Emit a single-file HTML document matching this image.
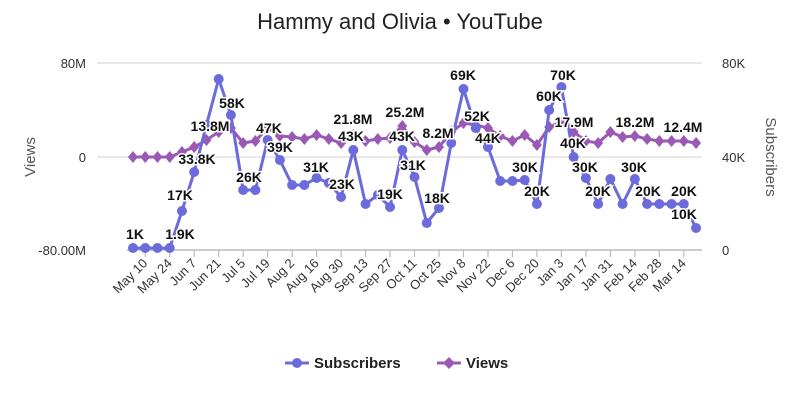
<!DOCTYPE html>
<html><head><meta charset="utf-8"><style>
body{margin:0;background:#fff;width:800px;height:400px;overflow:hidden}
text{font-family:"Liberation Sans",sans-serif}
.l{font-size:14px;font-weight:bold;fill:#111;text-anchor:middle;stroke:#fff;stroke-width:3px;paint-order:stroke}
.t{font-size:13px;fill:#333}
</style></head><body>
<svg width="800" height="400" xmlns="http://www.w3.org/2000/svg">
<text x="400" y="29" text-anchor="middle" style="font-size:22px;fill:#222">Hammy and Olivia • YouTube</text>
<line x1="97" y1="63" x2="702" y2="63" stroke="#e0e0e0" stroke-width="1.5"/>
<line x1="97" y1="157" x2="702" y2="157" stroke="#e0e0e0" stroke-width="1.5"/>
<line x1="127" y1="250" x2="702" y2="250" stroke="#bbb" stroke-width="1.5"/>
<g id="ticks" stroke="#bbb" stroke-width="1.2"></g>
<text class="t" x="86" y="68" text-anchor="end">80M</text>
<text class="t" x="86" y="162" text-anchor="end">0</text>
<text class="t" x="86" y="255" text-anchor="end">-80.00M</text>
<text class="t" x="722" y="68">80K</text>
<text class="t" x="722" y="162">40K</text>
<text class="t" x="722" y="255">0</text>
<text x="35" y="157" transform="rotate(-90 35 157)" text-anchor="middle" style="font-size:15px;fill:#555">Views</text>
<text x="766" y="157" transform="rotate(90 766 157)" text-anchor="middle" style="font-size:15px;fill:#555">Subscribers</text>
<g id="xl"></g>
<polyline id="vl" fill="none" stroke="#9b59b6" stroke-width="3"/>
<g id="vm" fill="#9b59b6"></g>
<polyline id="sl" fill="none" stroke="#6b6bdb" stroke-width="3"/>
<g id="sm" fill="#6b6bdb"></g>
<g>
<text class="l" x="135" y="239">1K</text><text class="l" x="180" y="239">1.9K</text>
<text class="l" x="180" y="200">17K</text><text class="l" x="197" y="164">33.8K</text>
<text class="l" x="210" y="131">13.8M</text><text class="l" x="232" y="108">58K</text>
<text class="l" x="249" y="182">26K</text><text class="l" x="269" y="133">47K</text>
<text class="l" x="280" y="152">39K</text><text class="l" x="316" y="172">31K</text>
<text class="l" x="342" y="189">23K</text><text class="l" x="353" y="124">21.8M</text>
<text class="l" x="351" y="141">43K</text><text class="l" x="390" y="199">19K</text>
<text class="l" x="405" y="117">25.2M</text><text class="l" x="402" y="141">43K</text>
<text class="l" x="413" y="170">31K</text><text class="l" x="438" y="138">8.2M</text>
<text class="l" x="437" y="203">18K</text><text class="l" x="463" y="80">69K</text>
<text class="l" x="477" y="121">52K</text><text class="l" x="488" y="143">44K</text>
<text class="l" x="525" y="172">30K</text><text class="l" x="537" y="196">20K</text>
<text class="l" x="549" y="101">60K</text><text class="l" x="563" y="80">70K</text>
<text class="l" x="574" y="127">17.9M</text><text class="l" x="573" y="148">40K</text>
<text class="l" x="585" y="172">30K</text><text class="l" x="598" y="196">20K</text>
<text class="l" x="635" y="127">18.2M</text><text class="l" x="634" y="172">30K</text>
<text class="l" x="648" y="196">20K</text><text class="l" x="683" y="132">12.4M</text>
<text class="l" x="684" y="196">20K</text><text class="l" x="684" y="219">10K</text>
</g>
<line x1="285" y1="363" x2="309" y2="363" stroke="#6b6bdb" stroke-width="3"/>
<circle cx="297" cy="363" r="5" fill="#6b6bdb"/>
<text x="314" y="368" style="font-size:15px;font-weight:bold;fill:#222">Subscribers</text>
<line x1="437" y1="363" x2="461" y2="363" stroke="#9b59b6" stroke-width="3"/>
<path d="M449 357 L455 363 L449 369 L443 363Z" fill="#9b59b6"/>
<text x="466" y="368" style="font-size:15px;font-weight:bold;fill:#222">Views</text>
</svg>
<script>
var S=[248,248,248,248,211,172,125,79,115,190,190,140,160,185,185,178,183,197,150,204,195,207,150,177,223,208,143,89,128,147,181,181,180,204,110,87,157,178,204,179,204,179,204,204,204,204,228];
var V=[157,157,157,157,152,147,140,132,128,143,141,128,136,137,139,135,139,143,135,141,139,138,126,142,150,147,132,123,125,128,136,141,135,145,127,122,132,141,143,132,137,136,139,141,141,141,143];
var L=["May 10","May 24","Jun 7","Jun 21","Jul 5","Jul 19","Aug 2","Aug 16","Aug 30","Sep 13","Sep 27","Oct 11","Oct 25","Nov 8","Nov 22","Dec 6","Dec 20","Jan 3","Jan 17","Jan 31","Feb 14","Feb 28","Mar 14"];
var ns="http://www.w3.org/2000/svg";
function X(i){return 133+12.24*i}
function el(t,a,p){var e=document.createElementNS(ns,t);for(var k in a)e.setAttribute(k,a[k]);document.getElementById(p).appendChild(e);return e}
var sp=[],vp=[];
for(var i=0;i<47;i++){var x=X(i);sp.push(x+","+S[i]);vp.push(x+","+V[i]);
el("circle",{cx:x,cy:S[i],r:5},"sm");
el("path",{d:"M"+x+" "+(V[i]-6)+" L"+(x+5)+" "+V[i]+" L"+x+" "+(V[i]+6)+" L"+(x-5)+" "+V[i]+"Z"},"vm");}
document.getElementById("sl").setAttribute("points",sp.join(" "));
document.getElementById("vl").setAttribute("points",vp.join(" "));
for(var j=0;j<23;j++){var x=X(1+2*j);
el("line",{x1:x,y1:250,x2:x,y2:257},"ticks");
var t=el("text",{x:x+3,y:264,"text-anchor":"end",transform:"rotate(-45 "+(x+3)+" 264)",style:"font-size:13px;fill:#333"},"xl");t.textContent=L[j];}
</script>
</body></html>
